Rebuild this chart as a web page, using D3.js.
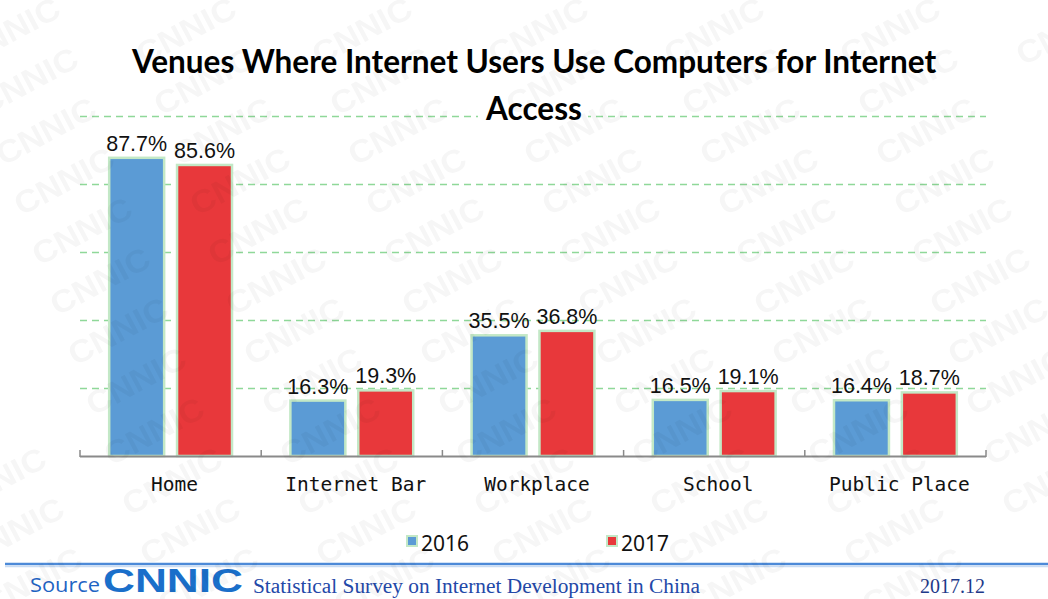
<!DOCTYPE html>
<html>
<head>
<meta charset="utf-8">
<script src="https://cdn.jsdelivr.net/npm/d3@7"></script>
<style>
  html, body { margin: 0; padding: 0; background: #fff; }
  svg { display: block; }
</style>
</head>
<body>
<svg id="chart" width="1048" height="599"></svg>
<script>
// Venues where internet users go online with a computer (share of users, %)
const categories = ["Home", "Internet Bar", "Workplace", "School", "Public Place"];
const years = ["2016", "2017"];
const values2016 = [87.7, 16.3, 35.5, 16.5, 16.4];
const values2017 = [85.6, 19.3, 36.8, 19.1, 18.7];
const yTicks = [0, 20, 40, 60, 80, 100];

const titleLines = ["Venues Where Internet Users Use Computers for Internet", "Access"];
const footerSource = "Source";
const footerLogo = "CNNIC";
const footerSurvey = "Statistical Survey on Internet Development in China";
const footerDate = "2017.12";

const colors = { "2016": "#5b9bd5", "2017": "#e8383b" };
const barStroke = "#c3e8c6";

const svg = d3.select("#chart");
const W = 1048, H = 599;

const plot = { left: 80, right: 986, top: 116, bottom: 456 };

const x = d3.scaleBand().domain(categories).range([plot.left, plot.right]).paddingInner(0).paddingOuter(0);
const xs = d3.scaleBand().domain(years).range([0, x.bandwidth()]).paddingInner(0.19).paddingOuter(0.43);
const y = d3.scaleLinear().domain([0, 100]).range([plot.bottom, plot.top]);

// dashed horizontal gridlines
svg.append("g").selectAll("line").data(yTicks.filter(t => t > 0)).join("line")
  .attr("x1", plot.left).attr("x2", plot.right)
  .attr("y1", d => Math.round(y(d)) + 0.5).attr("y2", d => Math.round(y(d)) + 0.5)
  .attr("stroke", "#8fd899").attr("stroke-width", 1.5)
  .attr("stroke-dasharray", "7,5");

// bars
const series = years.map((yr, i) => ({ year: yr, values: i === 0 ? values2016 : values2017 }));
const groups = svg.append("g").selectAll("g").data(categories).join("g")
  .attr("transform", d => `translate(${x(d)},0)`);

groups.selectAll("rect").data((d, ci) => series.map(s => ({ year: s.year, v: s.values[ci] }))).join("rect")
  .attr("x", d => xs(d.year))
  .attr("y", d => y(d.v))
  .attr("width", xs.bandwidth())
  .attr("height", d => y(0) - y(d.v))
  .attr("fill", d => colors[d.year])
  .attr("stroke", barStroke).attr("stroke-width", 2.5);

groups.selectAll("text.val").data((d, ci) => series.map(s => ({ year: s.year, v: s.values[ci] }))).join("text")
  .attr("class", "val")
  .attr("x", d => xs(d.year) + xs.bandwidth() / 2)
  .attr("y", d => y(d.v) - 7)
  .attr("text-anchor", "middle")
  .attr("font-family", "Liberation Sans, Arial, sans-serif")
  .attr("font-size", 21.5)
  .attr("fill", "#111")
  .text(d => d.v.toFixed(1) + "%");

// category axis with inward ticks at band boundaries
const axis = svg.append("g");
axis.append("line").attr("x1", plot.left).attr("x2", plot.right)
  .attr("y1", plot.bottom + 0.5).attr("y2", plot.bottom + 0.5)
  .attr("stroke", "#8a8a8a").attr("stroke-width", 2);
const boundaries = categories.map(c => x(c)).concat([plot.right]);
axis.selectAll("line.tick").data(boundaries).join("line").attr("class", "tick")
  .attr("x1", d => d).attr("x2", d => d)
  .attr("y1", plot.bottom - 6).attr("y2", plot.bottom + 1)
  .attr("stroke", "#8a8a8a").attr("stroke-width", 1.5);
axis.selectAll("text").data(categories).join("text")
  .attr("x", d => x(d) + x.bandwidth() / 2 + 4)
  .attr("y", 491)
  .attr("text-anchor", "middle")
  .attr("font-family", "DejaVu Sans Mono, Liberation Mono, monospace")
  .attr("font-size", 19.5)
  .attr("fill", "#111")
  .text(d => d);

// title (second line sits on a white patch over the top gridline)
svg.append("rect").attr("x", 478).attr("y", 93).attr("width", 110).attr("height", 32).attr("fill", "#fff");
svg.append("g").selectAll("text").data(titleLines).join("text")
  .attr("x", 534)
  .attr("y", (d, i) => 73 + i * 47)
  .attr("text-anchor", "middle")
  .attr("font-family", "Lato, Open Sans, sans-serif")
  .attr("font-weight", 700)
  .attr("font-size", 31.5)
  .attr("fill", "#000")
  .text(d => d);

// legend
const legendX = { "2016": 407, "2017": 607 };
const lg = svg.append("g").selectAll("g").data(years).join("g")
  .attr("transform", d => `translate(${legendX[d]},0)`);
lg.append("rect").attr("x", 0).attr("y", 536).attr("width", 10).attr("height", 10)
  .attr("fill", d => colors[d]).attr("stroke", barStroke).attr("stroke-width", 2);
lg.append("text").attr("x", 14).attr("y", 551)
  .attr("font-family", "Noto Sans, DejaVu Sans, sans-serif")
  .attr("font-size", 21).attr("fill", "#111")
  .text(d => d);

// footer band
svg.append("line").attr("x1", 5).attr("x2", W).attr("y1", 564).attr("y2", 564)
  .attr("stroke", "#4d8ad8").attr("stroke-width", 2.5);
svg.append("line").attr("x1", 5).attr("x2", W).attr("y1", 566.5).attr("y2", 566.5)
  .attr("stroke", "#c9dcf3").attr("stroke-width", 1.5);
svg.append("text").attr("x", 30).attr("y", 592)
  .attr("font-family", "Open Sans, Liberation Sans, sans-serif")
  .attr("font-size", 20).attr("fill", "#1f64c4")
  .attr("textLength", 70).attr("lengthAdjust", "spacingAndGlyphs")
  .text(footerSource);
svg.append("text").attr("x", 103).attr("y", 592)
  .attr("font-family", "Liberation Sans, Arial, sans-serif")
  .attr("font-weight", 900).attr("font-size", 33).attr("fill", "#1a6fca")
  .attr("textLength", 140).attr("lengthAdjust", "spacingAndGlyphs")
  .text(footerLogo);
svg.append("text").attr("x", 253).attr("y", 593)
  .attr("font-family", "Liberation Serif, Times New Roman, serif")
  .attr("font-size", 20).attr("fill", "#2348a8")
  .attr("textLength", 447).attr("lengthAdjust", "spacingAndGlyphs")
  .text(footerSurvey);
svg.append("text").attr("x", 985).attr("y", 593).attr("text-anchor", "end")
  .attr("font-family", "Liberation Serif, Times New Roman, serif")
  .attr("font-size", 20).attr("fill", "#1e3a8a")
  .text(footerDate);

// translucent brand watermark tiled over the whole slide on a skewed lattice
const wm = svg.append("g").attr("fill", "#000").attr("opacity", 0.038)
  .attr("pointer-events", "none")
  .attr("font-family", "Liberation Sans, Arial, sans-serif")
  .attr("font-weight", 900).attr("font-size", 32);
for (let j = -4; j <= 9; j++) {
  for (let i = -4; i <= 6; i++) {
    const cx = 592 + 176 * i + 18 * j;
    const cy = 181 + 50 * j;
    if (cx < -20 || cx > W + 20 || cy < -10 || cy > H + 10) continue;
    wm.append("text").attr("x", 0).attr("y", 0)
      .attr("text-anchor", "middle").attr("dy", "0.35em")
      .attr("textLength", 108).attr("lengthAdjust", "spacingAndGlyphs")
      .attr("transform", `translate(${cx},${cy}) rotate(-28)`)
      .text("CNNIC");
  }
}
</script>
</body>
</html>
